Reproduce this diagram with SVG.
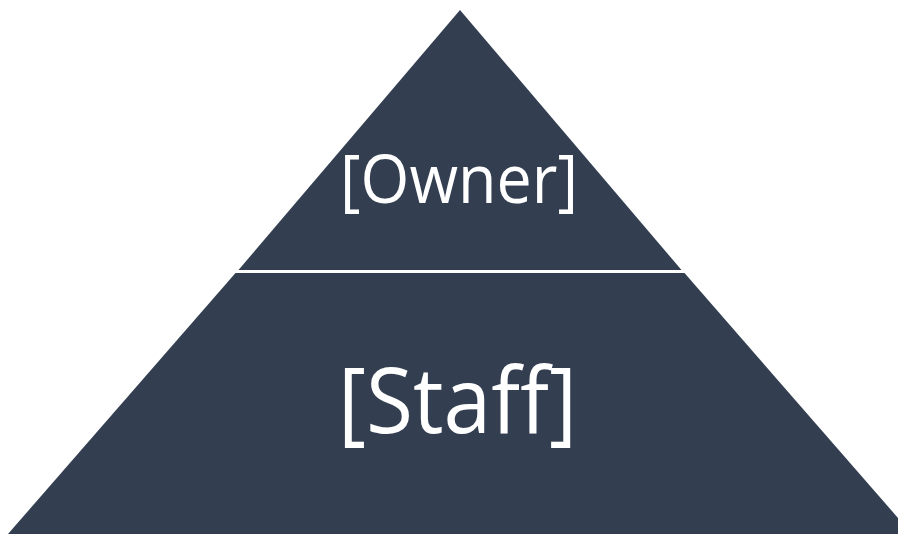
<svg xmlns="http://www.w3.org/2000/svg" width="898" height="534" viewBox="0 0 898 534">
<style>
.tier{fill:#333f50;}
.lbl{fill:#ffffff;font-family:"Open Sans","Liberation Sans",sans-serif;text-anchor:middle;}
</style>
<rect width="898" height="534" fill="#ffffff"/>
<g id="owner">
<polygon class="tier" points="460,10 681.5,270 238.5,270"/>
<text class="lbl" x="459" y="203" font-size="68" textLength="238" lengthAdjust="spacingAndGlyphs">[Owner]</text>
</g>
<g id="staff">
<polygon class="tier" points="235.5,273 684.5,273 912,534 8,534"/>
<text class="lbl" x="457.5" y="433" font-size="91" textLength="239" lengthAdjust="spacingAndGlyphs">[Staff]</text>
</g>
<g id="connectors"></g>
</svg>
